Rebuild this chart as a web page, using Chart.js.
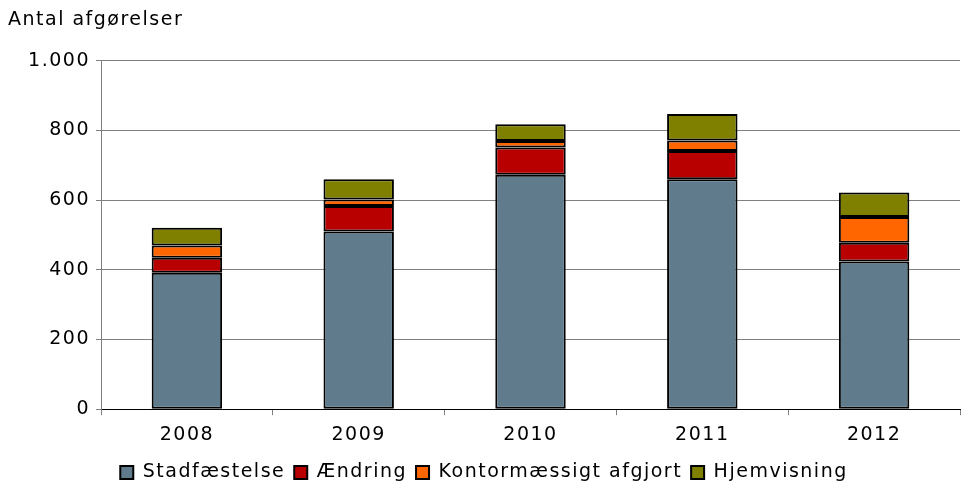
<!DOCTYPE html>
<html>
<head>
<meta charset="utf-8">
<script src="https://cdn.jsdelivr.net/npm/chart.js@4.4.1/dist/chart.umd.min.js"></script>
<style>
  html, body { margin: 0; padding: 0; background: #fff; }
  #wrap { width: 968px; height: 488px; }
</style>
</head>
<body>
<div id="wrap"><canvas id="myChart" width="968" height="488"></canvas></div>
<script>
const years = ['2008', '2009', '2010', '2011', '2012'];
const stadfaestelse = [392, 510, 673, 660, 424];
const aendring = [43, 73, 78, 81, 54];
const kontor = [35, 19, 19, 30, 74];
const hjemvisning = [51, 58, 48, 76, 70];
const yTicks = [0, 200, 400, 600, 800, 1000];

const font = { family: "'DejaVu Sans', Verdana, sans-serif", size: 19, weight: 'normal' };

const ds = (label, data, color) => ({
    label: label,
    data: data,
    backgroundColor: color,
    borderColor: '#000',
    borderWidth: 2,
    borderSkipped: false,
    barPercentage: 0.41,
    categoryPercentage: 1
});

// the original text is set wider than DejaVu, so space the letters a bit
const spacing = {
    id: 'spacing',
    beforeUpdate: (chart) => { chart.ctx.letterSpacing = '1.5px'; },
    beforeLayout: (chart) => { chart.ctx.letterSpacing = '1.5px'; },
    beforeDraw: (chart) => { chart.ctx.letterSpacing = '1.5px'; }
};

new Chart(document.getElementById('myChart'), {
    type: 'bar',
    data: {
        labels: years,
        datasets: [
            ds('Stadfæstelse', stadfaestelse, '#5f7b8c'),
            ds('Ændring', aendring, '#b80000'),
            ds('Kontormæssigt afgjort', kontor, '#ff6600'),
            ds('Hjemvisning', hjemvisning, '#7f7f00')
        ]
    },
    plugins: [spacing],
    options: {
        responsive: false,
        animation: false,
        layout: { padding: { left: 8, right: 8, top: 0, bottom: -4 } },
        plugins: {
            title: {
                display: true,
                text: 'Antal afgørelser',
                align: 'start',
                color: '#000',
                font: font,
                padding: { top: 9, bottom: 29 }
            },
            legend: {
                position: 'bottom',
                labels: {
                    color: '#000',
                    font: font,
                    boxWidth: 13,
                    boxHeight: 13,
                    padding: 9
                }
            },
            tooltip: { enabled: false }
        },
        scales: {
            x: {
                stacked: true,
                offset: true,
                grid: { offset: true, drawOnChartArea: false, drawTicks: true, tickLength: 6, color: '#808080' },
                border: { color: '#000' },
                ticks: { color: '#000', font: font, padding: 8 }
            },
            y: {
                stacked: true,
                min: 0,
                max: 1000,
                afterBuildTicks: (axis) => { axis.ticks = yTicks.map(v => ({ value: v })); },
                afterFit: (axis) => { axis.width = 93; },
                grid: { color: '#808080', tickLength: 5 },
                border: { color: '#808080' },
                ticks: {
                    color: '#000',
                    font: font,
                    padding: 6,
                    callback: (v) => v.toLocaleString('en-US').replace(',', '.')
                }
            }
        }
    }
});
</script>
</body>
</html>
